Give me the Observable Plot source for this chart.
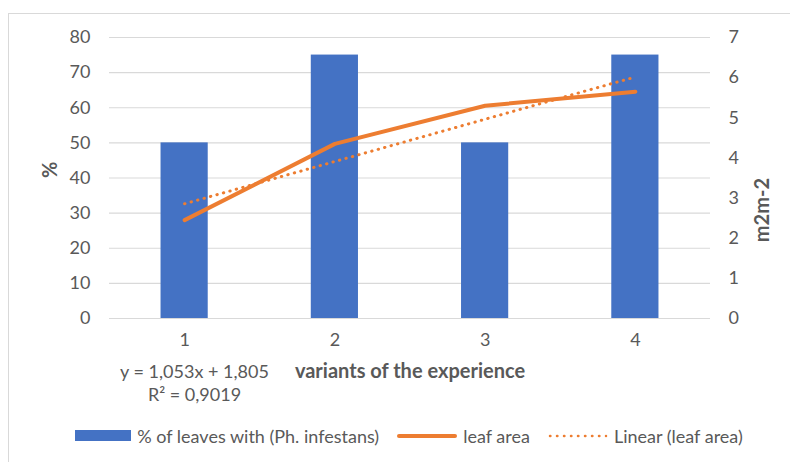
<!DOCTYPE html>
<html><head><meta charset="utf-8">
<script src="https://cdn.jsdelivr.net/npm/d3@7"></script>
<script src="https://cdn.jsdelivr.net/npm/@observablehq/plot@0.6"></script>
<style>
body{margin:0;background:#fff;font-family:Lato,sans-serif;width:790px;height:462px;overflow:hidden;position:relative;}
#frame{position:absolute;left:8px;top:13px;width:800px;height:470px;border:1px solid #d9d9d9;box-sizing:border-box;}
#chart{position:absolute;left:0;top:0;}
#legend{position:absolute;left:0;top:425px;width:818px;height:22px;display:flex;justify-content:center;align-items:center;font-size:18px;color:#595959;white-space:nowrap;}
#legend .item{display:flex;align-items:center;margin:0 9px;}
#legend .sw{margin-right:6px;}
</style>
</head><body>
<div id="frame"></div>
<div id="chart"></div>
<div id="legend"></div>
<script>
// ---- data ----
const variants = [1, 2, 3, 4];
const infectedPct = [50, 75, 50, 75];
const leafArea = [2.45, 4.35, 5.3, 5.65];
const trendSlope = 1.053;
const trendIntercept = 1.805;
const leftTicks = [0, 10, 20, 30, 40, 50, 60, 70, 80];
const rightTicks = [0, 1, 2, 3, 4, 5, 6, 7];
const leftMax = 80;
const rightMax = 7;
const xTitle = "variants of the experience";
const yLeftTitle = "%";
const yRightTitle = "m2m-2";
const eqLabel = "y = 1,053x + 1,805";
const r2Label = "R² = 0,9019";
const seriesNames = ["% of leaves with (Ph. infestans)", "leaf area", "Linear (leaf area)"];

// ---- styling ----
const BLUE = "#4472C4", ORANGE = "#ED7D31", GRAY = "#595959", GRID = "#d9d9d9";
const toLeft = v => v * leftMax / rightMax;

const rows = variants.map((v, i) => ({v, pct: infectedPct[i], leaf: leafArea[i]}));
const trend = variants.map(v => ({v, t: trendSlope * v + trendIntercept}));
const barHalf = 0.157;

const chart = Plot.plot({
  width: 790,
  height: 410,
  marginLeft: 109,
  marginRight: 80,
  marginTop: 37,
  marginBottom: 92,
  style: {fontFamily: "Lato, sans-serif", fontSize: "18px", color: GRAY, background: "transparent", overflow: "visible"},
  x: {domain: [0.5, 4.5], axis: null},
  y: {domain: [0, leftMax], axis: null},
  marks: [
    Plot.gridY(leftTicks, {stroke: GRID, strokeOpacity: 1, strokeWidth: 1.2}),
    Plot.rectY(rows, {x1: d => d.v - barHalf, x2: d => d.v + barHalf, y: "pct", fill: BLUE}),
    Plot.line(rows, {x: "v", y: d => toLeft(d.leaf), stroke: ORANGE, strokeWidth: 4, strokeLinecap: "round", strokeLinejoin: "round"}),
    Plot.line(trend, {x: "v", y: d => toLeft(d.t), stroke: ORANGE, strokeWidth: 3, strokeLinecap: "round", strokeDasharray: "0.4,6.3"}),
    Plot.axisY(leftTicks, {anchor: "left", tickSize: 0, tickPadding: 19, label: null, fill: GRAY, fontSize: 18}),
    Plot.axisY(rightTicks.map(toLeft), {anchor: "right", tickSize: 0, tickPadding: 18, label: null, fill: GRAY, fontSize: 18,
      tickFormat: d => String(Math.round(d * rightMax / leftMax))}),
    Plot.axisX(variants, {tickSize: 0, tickPadding: 15, label: null, fill: GRAY, fontSize: 18, tickFormat: d => String(d)}),
    Plot.text([yLeftTitle], {frameAnchor: "left", dx: -59, rotate: -90, fontWeight: "bold", fill: GRAY, fontSize: 20}),
    Plot.text([yRightTitle], {frameAnchor: "right", dx: 52, rotate: -90, fontWeight: "bold", fill: GRAY, fontSize: 20}),
    Plot.text([xTitle], {frameAnchor: "bottom", dy: 59, fontWeight: "bold", fill: GRAY, fontSize: 20}),
    Plot.text([eqLabel], {frameAnchor: "bottom-left", textAnchor: "middle", dx: 85, dy: 59, fill: GRAY, fontSize: 18}),
    Plot.text([r2Label], {frameAnchor: "bottom-left", textAnchor: "middle", dx: 85, dy: 82, fill: GRAY, fontSize: 18})
  ]
});
document.getElementById("chart").appendChild(chart);

// legend
const legend = document.getElementById("legend");
const swatches = [
  `<svg class="sw" width="56" height="12"><rect x="0" y="0" width="56" height="11" fill="${BLUE}"/></svg>`,
  `<svg class="sw" width="60" height="12"><line x1="2" x2="58" y1="6" y2="6" stroke="${ORANGE}" stroke-width="4" stroke-linecap="round"/></svg>`,
  `<svg class="sw" width="60" height="12"><line x1="2" x2="58" y1="6" y2="6" stroke="${ORANGE}" stroke-width="2.5" stroke-linecap="round" stroke-dasharray="0.4,6.6"/></svg>`
];
seriesNames.forEach((name, i) => {
  const item = document.createElement("div");
  item.className = "item";
  item.innerHTML = swatches[i] + `<span>${name}</span>`;
  legend.appendChild(item);
});
</script>
</body></html>
